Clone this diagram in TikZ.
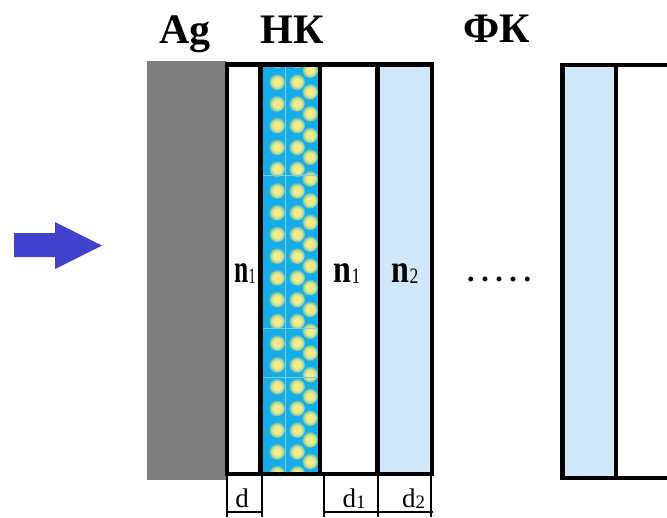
\documentclass[tikz,border=0pt]{standalone}
\usepackage{fontspec}
\usepackage{graphicx}
\setmainfont{Liberation Serif}

\definecolor{silver}{RGB}{127,127,127}
\definecolor{nkblue}{RGB}{22,172,232}
\definecolor{dotY}{RGB}{246,236,140}
\definecolor{dotG}{RGB}{168,214,150}
\definecolor{paleblue}{RGB}{208,232,250}
\definecolor{beam}{RGB}{64,66,204}
\definecolor{seamc}{RGB}{120,205,235}

% soft yellow grain on the blue nanocomposite layer
\pgfdeclareradialshading{nkdot}{\pgfpointorigin}{%
  color(0bp)=(dotY); color(11bp)=(dotY); color(20bp)=(dotG); color(27bp)=(nkblue); color(50bp)=(nkblue)}

\newcommand{\bigbf}{\fontsize{42}{50}\selectfont\bfseries}
\newcommand{\nlabel}[1]{{\fontsize{40}{48}\selectfont\textbf{n}}\raisebox{-1pt}{\fontsize{22}{26}\selectfont #1}}
\newcommand{\dlabel}[1]{{\fontsize{27}{32}\selectfont d}\raisebox{-1.5pt}{\fontsize{19}{22}\selectfont #1}}

\begin{document}
\begin{tikzpicture}[x=1pt,y=-1pt,
  wall/.style={line width=4.5pt, line cap=rect},
  tick/.style={line width=1.2pt},
  seam/.style={seamc, line width=0.8pt},
  lbl/.style={anchor=base, inner sep=0pt}]
\clip (0,0) rectangle (667,517);
\fill[white] (0,0) rectangle (667,517);

% incident light
\fill[beam] (14,233) -- (55,233) -- (55,222) -- (102,245.5) -- (55,269) -- (55,257) -- (14,257) -- cycle;

% silver film
\fill[silver] (147,61) rectangle (226,480);

% nanocomposite layer
\begin{scope}
  \clip (260.5,64.5) rectangle (320,474);
  \fill[nkblue] (260.5,64.5) rectangle (320,474);
  \foreach \i in {0,...,19} {
    \pgfmathsetmacro\ya{60.25+21.75*\i}
    \pgfmathsetmacro\yc{70+21.75*\i}
    \shade[shading=nkdot] (277,\ya) circle (8);
    \shade[shading=nkdot] (297,\ya) circle (8);
    \shade[shading=nkdot] (310,\yc) circle (8);
  }
  \draw[seam] (285,64) -- (285,474);
  \draw[seam] (262,175) -- (320,175);
  \draw[seam] (262,328) -- (320,328);
  \draw[seam] (262,377) -- (320,377);
\end{scope}

% second layer of the period
\fill[paleblue] (377.5,64.5) rectangle (432,474);

% photonic crystal cells
\fill[paleblue] (562.5,65) rectangle (616,478);
\draw[wall] (700,65) -- (562.5,65) -- (562.5,478) -- (700,478);
\draw[wall] (616,65) -- (616,478);

% cell walls of the first period
\draw[wall] (227,64.5) rectangle (432,474);
\foreach \x in {260.5,320,377.5}
  \draw[wall] (\x,64.5) -- (\x,474);

% thickness marks
\foreach \x in {227,262,324,378,431}
  \draw[tick] (\x,476) -- (\x,517);
\draw[tick] (227,512) -- (262,512);
\draw[tick] (324,512) -- (433,512);

% labels
\node[lbl] (ag) at (185,43) {\bigbf Ag};
\node[lbl] (nk) at (292,43) {\bigbf НК};
\node[lbl] (fk) at (497,42) {\bigbf ФК};

\node[lbl] (n1a) at (245,282) {\scalebox{0.64}[1]{\nlabel{1}}};
\node[lbl] (n1b) at (347,282) {\scalebox{0.8}[1]{\nlabel{1}}};
\node[lbl] (n2) at (405,282) {\scalebox{0.8}[1]{\nlabel{2}}};

\node[lbl, anchor=base west] (dots) at (467,281)
  {\fontsize{30}{36}\selectfont\bfseries\addfontfeatures{LetterSpace=22}.....};

\node[lbl] (d0) at (242,507) {\dlabel{}};
\node[lbl] (d1) at (354,507) {\dlabel{1}};
\node[lbl] (d2) at (413.5,507) {\dlabel{2}};
\end{tikzpicture}
\end{document}
